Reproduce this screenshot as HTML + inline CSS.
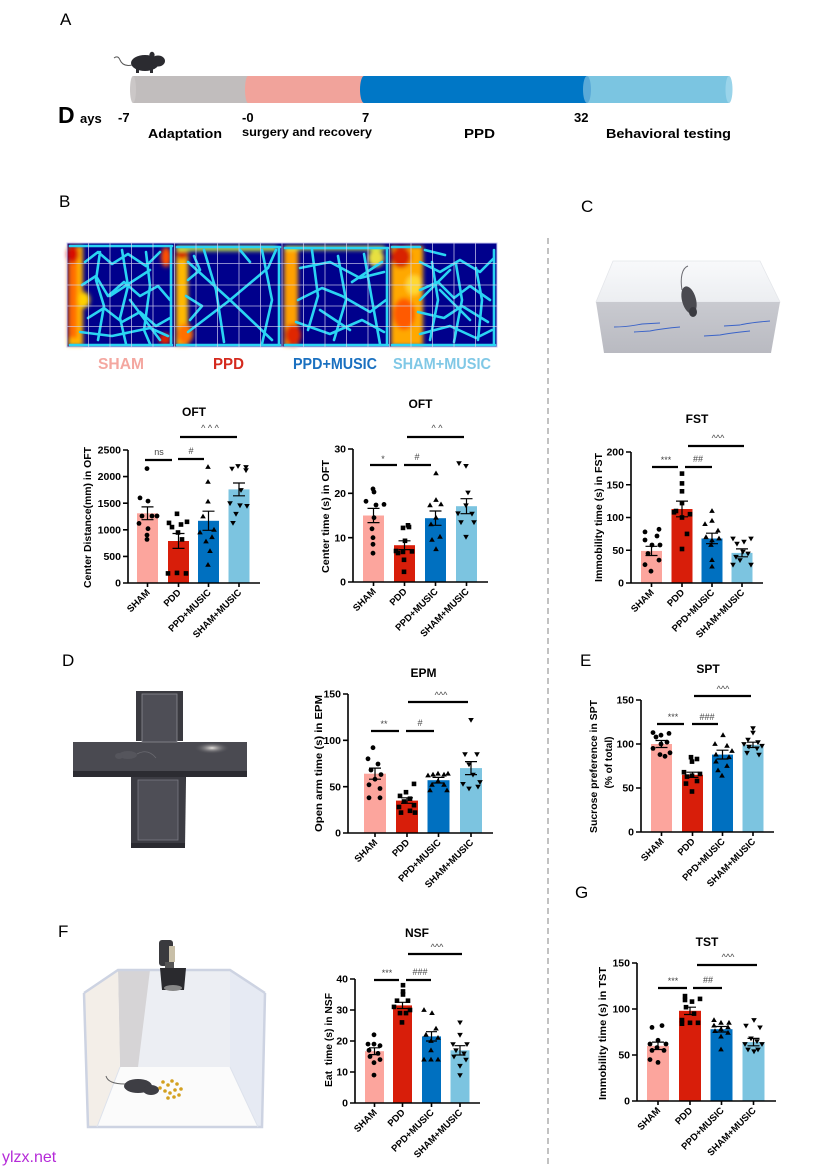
<!DOCTYPE html>
<html><head><meta charset="utf-8"><style>
html,body{margin:0;padding:0;background:#fff}
svg{display:block}
text{font-family:"Liberation Sans",Arial,sans-serif}
.tk{font-size:10.5px;font-weight:bold;text-anchor:end}
.xl{font-size:9.5px;font-weight:bold;text-anchor:end}
.yt{font-size:10.5px;font-weight:bold;text-anchor:middle}
.ti{font-size:12px;font-weight:bold;text-anchor:middle}
.sg{font-size:9px;fill:#444;text-anchor:middle}
.pl{font-size:17px}
.ax{fill:none;stroke:#000;stroke-width:1.6}
.eb{fill:none;stroke:#000;stroke-width:1.2}
.sl{stroke:#000;stroke-width:2.2}
.hl{fill:none;stroke:#2ad4f2;stroke-width:2.6;stroke-linejoin:round;stroke-linecap:round}
.tb{font-size:13px;font-weight:bold}
</style></head><body>
<svg width="834" height="1171" viewBox="0 0 834 1171" xmlns="http://www.w3.org/2000/svg">
<defs>
<circle id="o" r="2.4"/>
<rect id="s" x="-2.3" y="-2.3" width="4.6" height="4.6"/>
<path id="u" d="M0,-2.9L2.8,1.9L-2.8,1.9Z"/>
<path id="d" d="M0,2.9L2.8,-1.9L-2.8,-1.9Z"/>
<filter id="bl" x="-20%" y="-20%" width="140%" height="140%"><feGaussianBlur stdDeviation="2.2"/></filter>
<filter id="bl1"><feGaussianBlur stdDeviation="0.6"/></filter>
<linearGradient id="front" x1="0" y1="0" x2="0" y2="1"><stop offset="0" stop-color="#c9cad0"/><stop offset="1" stop-color="#b9bac1"/></linearGradient>
<linearGradient id="topf" x1="0" y1="0" x2="0" y2="1"><stop offset="0" stop-color="#f8f9fb"/><stop offset="1" stop-color="#eceef1"/></linearGradient>
<radialGradient id="glow" cx="0.5" cy="0.5" r="0.5"><stop offset="0" stop-color="#e8e4e0"/><stop offset="1" stop-color="#4b4b52" stop-opacity="0"/></radialGradient>
</defs>

<!-- ===== Panel A ===== -->
<text x="60" y="25" class="pl">A</text>
<g fill="#2b2b30">
<ellipse cx="145" cy="63" rx="14" ry="8"/>
<ellipse cx="158" cy="61" rx="7" ry="5.5"/>
<ellipse cx="152" cy="55" rx="2.6" ry="3.2"/>
<rect x="136" y="68" width="3" height="5"/><rect x="150" y="68" width="3" height="5"/>
</g>
<path d="M132,65 Q123,67 120,60 Q118,55 114,58" fill="none" stroke="#555" stroke-width="1"/>
<rect x="133" y="76" width="117" height="27" fill="#c1bdbd"/>
<ellipse cx="133" cy="89.5" rx="3" ry="13.5" fill="#cbc7c7"/>
<rect x="248" y="76" width="118" height="27" fill="#f1a39b"/>
<ellipse cx="248" cy="89.5" rx="3" ry="13.5" fill="#f1a39b"/>
<rect x="364" y="76" width="224" height="27" fill="#0077c6"/>
<ellipse cx="364" cy="89.5" rx="4" ry="13.5" fill="#0077c6"/>
<rect x="587" y="76" width="142" height="27" fill="#7bc5e1"/>
<ellipse cx="587" cy="89.5" rx="4" ry="13.5" fill="#5aaad8"/>
<ellipse cx="729" cy="89.5" rx="3.5" ry="13.5" fill="#9ad4ea"/>
<text x="58" y="123" font-size="23" font-weight="bold">D</text>
<text x="80" y="123" font-size="13" font-weight="bold">ays</text>
<text x="118" y="122" class="tb">-7</text>
<text x="242" y="122" class="tb">-0</text>
<text x="362" y="122" class="tb">7</text>
<text x="574" y="122" class="tb">32</text>
<text x="148" y="138" class="tb" textLength="74" lengthAdjust="spacingAndGlyphs">Adaptation</text>
<text x="242" y="136" font-size="11.5" font-weight="bold" textLength="130" lengthAdjust="spacingAndGlyphs">surgery and recovery</text>
<text x="464" y="138" class="tb" textLength="31" lengthAdjust="spacingAndGlyphs">PPD</text>
<text x="606" y="138" class="tb" textLength="125" lengthAdjust="spacingAndGlyphs">Behavioral testing</text>

<!-- ===== Panel B heatmap ===== -->
<text x="59" y="207" class="pl">B</text>
<rect x="67" y="243" width="430" height="104" fill="#00008c"/>
<g filter="url(#bl)">
<rect x="68" y="246" width="15" height="100" fill="#ffb400"/>
<rect x="68" y="252" width="9" height="86" fill="#ff6a00"/>
<ellipse cx="73" cy="254" rx="6" ry="9" fill="#d81000"/>
<ellipse cx="166" cy="257" rx="5" ry="10" fill="#ff5000"/>
<ellipse cx="165" cy="339" rx="6" ry="6" fill="#e02000"/>
<ellipse cx="84" cy="300" rx="6" ry="8" fill="#ffd000"/>
<rect x="176" y="246" width="12" height="100" fill="#ffb800"/>
<ellipse cx="182" cy="253" rx="6" ry="6" fill="#d01000"/>
<ellipse cx="185" cy="334" rx="8" ry="10" fill="#ff7000"/>
<rect x="177" y="246" width="100" height="5" fill="#c8f040"/>
<rect x="284" y="246" width="14" height="100" fill="#ffa000"/>
<ellipse cx="293" cy="335" rx="8" ry="11" fill="#e02800"/>
<ellipse cx="376" cy="258" rx="8" ry="9" fill="#e8e040"/>
<rect x="285" y="246" width="100" height="4" fill="#d0f040"/>
<rect x="391" y="246" width="32" height="100" fill="#ffa800"/>
<ellipse cx="401" cy="257" rx="10" ry="11" fill="#d82000"/>
<ellipse cx="404" cy="314" rx="11" ry="16" fill="#ff5a00"/>
<ellipse cx="414" cy="285" rx="8" ry="10" fill="#ffd830"/>
</g>
<g class="hl">
<path d="M70,246H172M171,246V345M70,345H172M85,262L98,252L112,264L128,254L146,266L160,252M82,285L96,276L108,296L124,282L140,296L158,286L170,300M88,318L104,308L122,322L140,312L156,326L170,318M100,252L96,280L104,306L98,340M122,250L128,286L120,318L126,344M146,252L150,286L144,330L150,344M80,332L112,336L150,328L168,336M110,296L150,270M130,300L160,340"/>
<path d="M177,247H280M279,247V345M177,345H280M188,262L230,300L272,340M188,332L230,300L268,268L276,250M204,250L216,290L224,342M262,250L272,300L262,344M186,296L202,306L190,320M188,280L200,270L194,256M240,250L250,262"/>
<path d="M285,248H388M387,248V345M285,345H388M300,268L330,262L360,278L384,272M298,300L322,288L342,296L370,312L386,300M296,322L330,334L362,320L384,332M338,256L346,300L334,340M364,254L372,300L380,344M312,250L318,296L308,330M352,282L382,262M320,310L350,330"/>
<path d="M392,247H420M494,250V345M392,345H495M420,262L440,272L460,260L480,272L494,258M420,290L438,282L454,298L470,286L490,300M418,312L444,318L462,306L488,322M420,334L450,326L476,338L492,330M432,262L438,300L430,340M456,264L462,300L454,342M476,268L482,300L478,340M440,290L470,320M450,270L420,300M425,250L445,255"/>
</g>
<g stroke="#d6d6f2" stroke-width="0.8" opacity="0.85">
<path d="M88.5,243V347M110,243V347M131.5,243V347M153,243V347M174.5,243V347M196,243V347M217.5,243V347M239,243V347M260.5,243V347M282,243V347M303.5,243V347M325,243V347M346.5,243V347M368,243V347M389.5,243V347M411,243V347M432.5,243V347M454,243V347M475.5,243V347"/>
<path d="M67,263.5H497M67,285H497M67,306H497M67,326.5H497"/>
</g>
<rect x="67" y="243" width="430" height="104" fill="none" stroke="#c8c8f0" stroke-width="1"/>
<text x="98" y="369" font-size="15.5" font-weight="bold" fill="#f4a7a0" textLength="46" lengthAdjust="spacingAndGlyphs">SHAM</text>
<text x="213" y="369" font-size="15.5" font-weight="bold" fill="#d42a1e" textLength="31" lengthAdjust="spacingAndGlyphs">PPD</text>
<text x="293" y="369" font-size="15.5" font-weight="bold" fill="#1a70c0" textLength="84" lengthAdjust="spacingAndGlyphs">PPD+MUSIC</text>
<text x="393" y="369" font-size="15.5" font-weight="bold" fill="#80c8e6" textLength="98" lengthAdjust="spacingAndGlyphs">SHAM+MUSIC</text>

<!-- dashed separator -->
<line x1="548" y1="238" x2="548" y2="1165" stroke="#9a9a9a" stroke-width="1.2" stroke-dasharray="6,4"/>

<!-- ===== OFT distance ===== -->
<g>
<text x="194" y="416" class="ti">OFT</text>
<rect x="137" y="513.3" width="21" height="69.7" fill="#fca59d"/>
<rect x="168" y="541" width="21" height="42" fill="#d81e0a"/>
<rect x="198" y="520.8" width="21" height="62.2" fill="#0070c0"/>
<rect x="228.5" y="489.4" width="21" height="93.6" fill="#7cc4e0"/>
<path class="ax" d="M128,450V583H260M123,450H128M123,476.6H128M123,503.2H128M123,529.8H128M123,556.4H128M123,583H128M147.5,583V587M178.5,583V587M208.5,583V587M239,583V587"/>
<g class="tk"><text x="121" y="453.6">2500</text><text x="121" y="480.2">2000</text><text x="121" y="506.8">1500</text><text x="121" y="533.4">1000</text><text x="121" y="560">500</text><text x="121" y="586.6">0</text></g>
<g>
<use href="#o" x="147" y="468.6"/><use href="#o" x="140" y="497.9"/><use href="#o" x="148" y="501.1"/><use href="#o" x="142" y="516"/><use href="#o" x="152" y="516"/><use href="#o" x="157" y="516"/><use href="#o" x="139" y="523.4"/><use href="#o" x="148" y="528.7"/><use href="#o" x="147" y="535.1"/><use href="#o" x="147" y="539.4"/>
<use href="#s" x="177" y="513.8"/><use href="#s" x="169" y="522.9"/><use href="#s" x="187" y="521.8"/><use href="#s" x="181" y="524.5"/><use href="#s" x="172" y="527.1"/><use href="#s" x="178" y="532.5"/><use href="#s" x="182" y="539.4"/><use href="#s" x="168" y="573.4"/><use href="#s" x="177" y="572.9"/><use href="#s" x="186" y="573.4"/>
<use href="#u" x="208" y="467"/><use href="#u" x="208" y="481.9"/><use href="#u" x="208" y="501.6"/><use href="#u" x="203" y="516.5"/><use href="#u" x="214" y="529.8"/><use href="#u" x="200" y="532.5"/><use href="#u" x="212" y="537.2"/><use href="#u" x="206" y="541.5"/><use href="#u" x="210" y="551.1"/><use href="#u" x="208" y="564.9"/>
<use href="#d" x="232" y="468.6"/><use href="#d" x="238" y="466"/><use href="#d" x="246" y="467"/><use href="#d" x="246" y="470.2"/><use href="#d" x="230" y="503.2"/><use href="#d" x="247" y="505.9"/><use href="#d" x="240" y="505.3"/><use href="#d" x="236" y="513.8"/><use href="#d" x="233" y="522.9"/><use href="#d" x="241" y="490"/>
</g>
<path class="eb" d="M141.5,506.9H153.5M147.5,506.9V519.7M141.5,519.7H153.5M172.5,533.5H184.5M178.5,533.5V548.4M172.5,548.4H184.5M202.5,511.2H214.5M208.5,511.2V530.3M202.5,530.3H214.5M233,483H245M239,483V495.8M233,495.8H245"/>
<path class="sl" d="M145,460H172M178,459H204M180,437H237"/>
<text x="159" y="455" class="sg">ns</text><text x="191" y="454" class="sg">#</text><text x="210" y="431" class="sg">^ ^ ^</text>
<text transform="translate(91,517.5) rotate(-90)" class="yt" textLength="141" lengthAdjust="spacingAndGlyphs">Center Distance(mm) in OFT</text>
<text transform="translate(150.5,593) rotate(-45)" class="xl">SHAM</text>
<text transform="translate(181.5,593) rotate(-45)" class="xl">PDD</text>
<text transform="translate(211.5,593) rotate(-45)" class="xl">PPD+MUSIC</text>
<text transform="translate(242,593) rotate(-45)" class="xl">SHAM+MUSIC</text>
</g>

<!-- ===== OFT time ===== -->
<g>
<text x="420.5" y="408" class="ti">OFT</text>
<rect x="363" y="515.5" width="21" height="66.5" fill="#fca59d"/>
<rect x="394" y="545.2" width="21" height="36.8" fill="#d81e0a"/>
<rect x="425" y="518.2" width="21" height="63.8" fill="#0070c0"/>
<rect x="456" y="506.2" width="21" height="75.8" fill="#7cc4e0"/>
<path class="ax" d="M353,449V582H488M348,449H353M348,493.3H353M348,537.7H353M348,582H353M373.5,582V586M404.5,582V586M435.5,582V586M466.5,582V586"/>
<g class="tk"><text x="346" y="452.6">30</text><text x="346" y="496.9">20</text><text x="346" y="541.3">10</text><text x="346" y="585.6">0</text></g>
<g>
<use href="#o" x="373" y="488.9"/><use href="#o" x="374" y="492"/><use href="#o" x="366" y="501.3"/><use href="#o" x="384" y="504.4"/><use href="#o" x="376" y="505"/><use href="#o" x="374" y="517.7"/><use href="#o" x="372" y="528.8"/><use href="#o" x="373" y="537.7"/><use href="#o" x="373" y="544.3"/><use href="#o" x="373" y="553.2"/>
<use href="#s" x="408" y="525.3"/><use href="#s" x="403" y="527.9"/><use href="#s" x="409" y="527"/><use href="#s" x="405" y="540.8"/><use href="#s" x="396" y="551"/><use href="#s" x="403" y="551.9"/><use href="#s" x="412" y="551.4"/><use href="#s" x="404" y="559.8"/><use href="#s" x="404" y="571.8"/><use href="#s" x="398" y="553"/>
<use href="#u" x="436" y="473.4"/><use href="#u" x="436" y="500"/><use href="#u" x="430" y="505.3"/><use href="#u" x="441" y="504.4"/><use href="#u" x="436" y="517.7"/><use href="#u" x="431" y="524.4"/><use href="#u" x="440" y="536.8"/><use href="#u" x="432" y="539.9"/><use href="#u" x="436" y="549.2"/>
<use href="#d" x="459" y="463.2"/><use href="#d" x="466" y="465.9"/><use href="#d" x="468" y="492.5"/><use href="#d" x="466" y="505.3"/><use href="#d" x="458" y="513.3"/><use href="#d" x="472" y="513.7"/><use href="#d" x="461" y="522.2"/><use href="#d" x="474" y="522.2"/><use href="#d" x="466" y="536.8"/>
</g>
<path class="eb" d="M367.5,508.4H379.5M373.5,508.4V522.6M367.5,522.6H379.5M398.5,540.8H410.5M404.5,540.8V549.6M398.5,549.6H410.5M429.5,511H441.5M435.5,511V525.3M429.5,525.3H441.5M460.5,498.7H472.5M466.5,498.7V513.7M460.5,513.7H472.5"/>
<path class="sl" d="M370,465H397M404,465H431M407,437H464"/>
<text x="383" y="462" class="sg">*</text><text x="417" y="460" class="sg">#</text><text x="437" y="431" class="sg">^ ^</text>
<text transform="translate(329,516.5) rotate(-90)" class="yt" textLength="113" lengthAdjust="spacingAndGlyphs">Center time (s) in OFT</text>
<text transform="translate(376.5,592) rotate(-45)" class="xl">SHAM</text>
<text transform="translate(407.5,592) rotate(-45)" class="xl">PDD</text>
<text transform="translate(438.5,592) rotate(-45)" class="xl">PPD+MUSIC</text>
<text transform="translate(469.5,592) rotate(-45)" class="xl">SHAM+MUSIC</text>
</g>

<!-- ===== Panel C ===== -->
<text x="581" y="212" class="pl">C</text>
<polygon points="613,261 760,261 780,302 596,302" fill="url(#topf)" stroke="#e4e6ea" stroke-width="0.8"/>
<polygon points="596,302 780,302 771,353 604,353" fill="url(#front)"/>
<g fill="none" stroke="#3a63c8" stroke-width="0.9">
<path d="M614,327C628,327 636,325 642,324L660,323"/>
<path d="M634,332L650,331C660,329 668,328 680,327"/>
<path d="M724,326L740,325C748,323 758,322 770,321"/>
<path d="M704,336L720,335C730,333 740,332 750,331"/>
</g>
<path d="M682,290C680,278 682,268 688,266" fill="none" stroke="#6a6a70" stroke-width="1"/>
<ellipse cx="689" cy="300" rx="7" ry="14" fill="#4a4a50" transform="rotate(-15 689 300)"/>
<ellipse cx="693" cy="312" rx="4" ry="5" fill="#3a3a40"/>

<!-- ===== FST ===== -->
<g>
<text x="697" y="423" class="ti" font-size="12.5">FST</text>
<rect x="641" y="550.9" width="21" height="32.1" fill="#fca59d"/>
<rect x="671.5" y="509" width="21" height="74" fill="#d81e0a"/>
<rect x="701.5" y="538.5" width="21" height="44.5" fill="#0070c0"/>
<rect x="731.5" y="552.9" width="21" height="30.1" fill="#7cc4e0"/>
<path class="ax" d="M631,452V583H763M626,452H631M626,484.75H631M626,517.5H631M626,550.25H631M626,583H631M651.5,583V587M682,583V587M712,583V587M742,583V587"/>
<g class="tk"><text x="624" y="455.6">200</text><text x="624" y="488.3">150</text><text x="624" y="521.1">100</text><text x="624" y="553.8">50</text><text x="624" y="586.6">0</text></g>
<g>
<use href="#o" x="659" y="529.3"/><use href="#o" x="645" y="531.9"/><use href="#o" x="657" y="536"/><use href="#o" x="645" y="540"/><use href="#o" x="652" y="545"/><use href="#o" x="660" y="545"/><use href="#o" x="648" y="553.5"/><use href="#o" x="659" y="560.1"/><use href="#o" x="645" y="564.7"/><use href="#o" x="651" y="571.2"/>
<use href="#s" x="682" y="473.6"/><use href="#s" x="682" y="483.4"/><use href="#s" x="682" y="491.3"/><use href="#s" x="682" y="503.1"/><use href="#s" x="676" y="511"/><use href="#s" x="690" y="514.2"/><use href="#s" x="682" y="517.5"/><use href="#s" x="674" y="512.3"/><use href="#s" x="687" y="533.9"/><use href="#s" x="682" y="549"/>
<use href="#u" x="712" y="511"/><use href="#u" x="712" y="520.8"/><use href="#u" x="705" y="524.1"/><use href="#u" x="718" y="530.6"/><use href="#u" x="706" y="537.2"/><use href="#u" x="719" y="538.5"/><use href="#u" x="712" y="540.4"/><use href="#u" x="711" y="545"/><use href="#u" x="712" y="560.1"/><use href="#u" x="712" y="566.6"/>
<use href="#d" x="733" y="538.5"/><use href="#d" x="751" y="538.5"/><use href="#d" x="744" y="541.7"/><use href="#d" x="737" y="543.7"/><use href="#d" x="743" y="551.6"/><use href="#d" x="748" y="553.5"/><use href="#d" x="736" y="556.8"/><use href="#d" x="740" y="560.1"/><use href="#d" x="733" y="564.7"/><use href="#d" x="751" y="564.7"/>
</g>
<path class="eb" d="M645.5,546.3H657.5M651.5,546.3V555.5M645.5,555.5H657.5M676,501.1H688M682,501.1V516.8M676,516.8H688M706,533.2H718M712,533.2V543.7M706,543.7H718M736,548.9H748M742,548.9V556.8M736,556.8H748"/>
<path class="sl" d="M652,467H678M685,467H712M688,446H744"/>
<text x="666" y="463" class="sg">***</text><text x="698" y="462" class="sg">##</text><text x="718" y="441" class="sg">^^^</text>
<text transform="translate(602,517.5) rotate(-90)" class="yt" textLength="129" lengthAdjust="spacingAndGlyphs">Immobility time (s) in FST</text>
<text transform="translate(654.5,593) rotate(-45)" class="xl">SHAM</text>
<text transform="translate(685,593) rotate(-45)" class="xl">PDD</text>
<text transform="translate(715,593) rotate(-45)" class="xl">PPD+MUSIC</text>
<text transform="translate(745,593) rotate(-45)" class="xl">SHAM+MUSIC</text>
</g>

<!-- ===== Panel D ===== -->
<text x="62" y="666" class="pl">D</text>
<g>
<polygon points="131,776 186,776 185,847 131,847" fill="#2e2e34"/>
<rect x="136" y="691" width="47" height="50" fill="#3a3a40"/>
<rect x="73" y="742" width="174" height="29" fill="#4a4a51"/>
<rect x="73" y="771" width="174" height="6" fill="#2c2c32"/>
<rect x="131" y="777" width="54" height="66" fill="#3c3c43"/>
<rect x="131" y="843" width="54" height="5" fill="#2a2a30"/>
<rect x="142" y="694" width="35" height="48" fill="#4e4e56" stroke="#8a8a92" stroke-width="0.8"/>
<rect x="138" y="780" width="40" height="60" fill="#4e4e56" stroke="#7a7a82" stroke-width="0.8"/>
<ellipse cx="212" cy="748" rx="18" ry="6" fill="url(#glow)"/>
<ellipse cx="128" cy="755" rx="9" ry="4" fill="#55555c"/>
<ellipse cx="119" cy="756" rx="4" ry="3" fill="#55555c"/>
<path d="M137,754Q148,748 156,758" fill="none" stroke="#6a6a70" stroke-width="0.8"/>
</g>

<!-- ===== EPM ===== -->
<g>
<text x="423.5" y="677" class="ti" font-size="13">EPM</text>
<rect x="364" y="773.7" width="22" height="59.3" fill="#fca59d"/>
<rect x="396" y="800.6" width="22" height="32.4" fill="#d81e0a"/>
<rect x="427.5" y="780.2" width="22" height="52.8" fill="#0070c0"/>
<rect x="460" y="768.1" width="22" height="64.9" fill="#7cc4e0"/>
<path class="ax" d="M348,694V833H493M343,694H348M343,740.3H348M343,786.7H348M343,833H348M375,833V837M407,833V837M438.5,833V837M471,833V837"/>
<g class="tk"><text x="341" y="697.6">150</text><text x="341" y="743.9">100</text><text x="341" y="790.3">50</text><text x="341" y="836.6">0</text></g>
<g>
<use href="#o" x="373" y="747.7"/><use href="#o" x="368" y="758.8"/><use href="#o" x="378" y="764"/><use href="#o" x="371" y="770"/><use href="#o" x="381" y="774.6"/><use href="#o" x="375" y="779.2"/><use href="#o" x="369" y="784.8"/><use href="#o" x="380" y="788.5"/><use href="#o" x="369" y="797.8"/><use href="#o" x="380" y="797.8"/>
<use href="#s" x="414" y="783.9"/><use href="#s" x="406" y="792.2"/><use href="#s" x="400" y="795.9"/><use href="#s" x="410" y="798.7"/><use href="#s" x="404" y="801.5"/><use href="#s" x="414" y="805.2"/><use href="#s" x="399" y="807"/><use href="#s" x="410" y="810.8"/><use href="#s" x="401" y="812.6"/><use href="#s" x="415" y="812.6"/>
<use href="#u" x="428" y="775.5"/><use href="#u" x="433" y="774.6"/><use href="#u" x="438" y="773.7"/><use href="#u" x="444" y="774.6"/><use href="#u" x="448" y="773.7"/><use href="#u" x="438" y="781"/><use href="#u" x="432" y="784.8"/><use href="#u" x="444" y="784.8"/><use href="#u" x="430" y="790.4"/><use href="#u" x="447" y="790.4"/>
<use href="#d" x="471" y="719.9"/><use href="#d" x="465" y="754.2"/><use href="#d" x="477" y="754.2"/><use href="#d" x="469" y="764.4"/><use href="#d" x="473" y="774.6"/><use href="#d" x="480" y="782"/><use href="#d" x="463" y="783.9"/><use href="#d" x="478" y="786.6"/><use href="#d" x="469" y="788.5"/>
</g>
<path class="eb" d="M369,768.1H381M375,768.1V779.2M369,779.2H381M401,797.8H413M407,797.8V803.3M401,803.3H413M432.5,777.4H444.5M438.5,777.4V783M432.5,783H444.5M465,761.6H477M471,761.6V774.6M465,774.6H477"/>
<path class="sl" d="M371,731H399M406,731H434M408,702H468"/>
<text x="384" y="727" class="sg">**</text><text x="420" y="726" class="sg">#</text><text x="441" y="698" class="sg">^^^</text>
<text transform="translate(322,763.5) rotate(-90)" class="yt" textLength="137" lengthAdjust="spacingAndGlyphs">Open arm time (s) in EPM</text>
<text transform="translate(378,843) rotate(-45)" class="xl">SHAM</text>
<text transform="translate(410,843) rotate(-45)" class="xl">PDD</text>
<text transform="translate(441.5,843) rotate(-45)" class="xl">PPD+MUSIC</text>
<text transform="translate(474,843) rotate(-45)" class="xl">SHAM+MUSIC</text>
</g>

<!-- ===== Panel E SPT ===== -->
<text x="580" y="666" class="pl">E</text>
<g>
<text x="708" y="673" class="ti" font-size="13">SPT</text>
<rect x="651" y="744" width="21" height="88" fill="#fca59d"/>
<rect x="682" y="774.8" width="21" height="57.2" fill="#d81e0a"/>
<rect x="712" y="754.6" width="21" height="77.4" fill="#0070c0"/>
<rect x="742.5" y="744.9" width="21" height="87.1" fill="#7cc4e0"/>
<path class="ax" d="M641,700V832H774M636,700H641M636,744H641M636,788H641M636,832H641M661.5,832V836M692.5,832V836M722.5,832V836M753,832V836"/>
<g class="tk"><text x="634" y="703.6">150</text><text x="634" y="747.6">100</text><text x="634" y="791.6">50</text><text x="634" y="835.6">0</text></g>
<g>
<use href="#o" x="653" y="732.6"/><use href="#o" x="669" y="733.4"/><use href="#o" x="661" y="735.2"/><use href="#o" x="656" y="737"/><use href="#o" x="667" y="742.2"/><use href="#o" x="661" y="744"/><use href="#o" x="653" y="748.4"/><use href="#o" x="670" y="752.8"/><use href="#o" x="660" y="754.6"/><use href="#o" x="665" y="756.3"/>
<use href="#s" x="691" y="757.2"/><use href="#s" x="697" y="759"/><use href="#s" x="692" y="761.6"/><use href="#s" x="684" y="772.2"/><use href="#s" x="700" y="773.9"/><use href="#s" x="692" y="775.7"/><use href="#s" x="687" y="776.6"/><use href="#s" x="697" y="781"/><use href="#s" x="686" y="783.6"/><use href="#s" x="692" y="791.5"/>
<use href="#u" x="723" y="735.2"/><use href="#u" x="715" y="744"/><use href="#u" x="727" y="745.8"/><use href="#u" x="732" y="751"/><use href="#u" x="716" y="754.6"/><use href="#u" x="729" y="757.2"/><use href="#u" x="716" y="761.6"/><use href="#u" x="727" y="766"/><use href="#u" x="718" y="770.4"/><use href="#u" x="722" y="775.7"/>
<use href="#d" x="753" y="728.2"/><use href="#d" x="753" y="732.6"/><use href="#d" x="748" y="739.6"/><use href="#d" x="758" y="742.2"/><use href="#d" x="744" y="744"/><use href="#d" x="762" y="745.8"/><use href="#d" x="749" y="746.6"/><use href="#d" x="757" y="748.4"/><use href="#d" x="747" y="752.8"/><use href="#d" x="759" y="754.6"/>
</g>
<path class="eb" d="M655.5,740.5H667.5M661.5,740.5V747.5M655.5,747.5H667.5M686.5,772.2H698.5M692.5,772.2V777.4M686.5,777.4H698.5M716.5,750.2H728.5M722.5,750.2V759M716.5,759H728.5M747,742.2H759M753,742.2V747.5M747,747.5H759"/>
<path class="sl" d="M657,724H684M692,724H718M694,696H751"/>
<text x="673" y="720" class="sg">***</text><text x="707" y="720" class="sg">###</text><text x="723" y="692" class="sg">^^^</text>
<text transform="translate(597,766.5) rotate(-90)" class="yt" textLength="133" lengthAdjust="spacingAndGlyphs">Sucrose preference in SPT</text>
<text transform="translate(612,762.5) rotate(-90)" class="yt" textLength="52" lengthAdjust="spacingAndGlyphs">(% of total)</text>
<text transform="translate(664.5,842) rotate(-45)" class="xl">SHAM</text>
<text transform="translate(695.5,842) rotate(-45)" class="xl">PDD</text>
<text transform="translate(725.5,842) rotate(-45)" class="xl">PPD+MUSIC</text>
<text transform="translate(756,842) rotate(-45)" class="xl">SHAM+MUSIC</text>
</g>

<!-- ===== Panel F ===== -->
<text x="58" y="937" class="pl">F</text>
<g>
<polygon points="118,970 230,970 230,1067 120,1067" fill="#eceef3"/>
<polygon points="118,970 150,970 138,1067 120,1067" fill="#d6d4d6"/>
<polygon points="118,1067 230,1067 258,1127 97,1127" fill="#fbfbfb"/>
<polygon points="84,993 118,970 120,1067 97,1127 88,1127" fill="#f3eee8"/>
<polygon points="230,970 265,993 262,1127 258,1127 230,1067" fill="#e6eaf3"/>
<g fill="none" stroke="#cdd3e2" stroke-width="2.5">
<path d="M84,993L118,970H230L265,993"/>
<path d="M84,993L88,1127H262L265,993"/>
</g>
<path d="M97,1127L120,1067M258,1127L230,1067" stroke="#dde2ec" stroke-width="1" fill="none"/>
<rect x="159" y="940" width="14" height="26" rx="3" fill="#3a3a3e"/>
<rect x="169" y="946" width="6" height="16" fill="#c8bfa8"/>
<rect x="165" y="962" width="9" height="6" fill="#555"/>
<path d="M160,968H186L184,990H162Z" fill="#2a2a2e"/>
<ellipse cx="173" cy="988" rx="9" ry="3" fill="#888"/>
<ellipse cx="138" cy="1086" rx="14" ry="7" fill="#3e3e44"/>
<ellipse cx="151" cy="1090" rx="8" ry="5" fill="#3e3e44"/>
<path d="M125,1084Q108,1084 106,1076" fill="none" stroke="#666" stroke-width="1"/>
<g fill="#d3a020">
<circle cx="163" cy="1082" r="1.8"/><circle cx="168" cy="1085" r="1.8"/><circle cx="172" cy="1081" r="1.8"/><circle cx="177" cy="1084" r="1.8"/><circle cx="181" cy="1089" r="1.8"/><circle cx="160" cy="1088" r="1.8"/><circle cx="165" cy="1091" r="1.8"/><circle cx="170" cy="1093" r="1.8"/><circle cx="175" cy="1090" r="1.8"/><circle cx="168" cy="1098" r="1.8"/><circle cx="174" cy="1097" r="1.8"/><circle cx="179" cy="1095" r="1.8"/>
</g>
</g>

<!-- ===== NSF ===== -->
<g>
<text x="417" y="937" class="ti">NSF</text>
<rect x="365" y="1051.2" width="19" height="51.8" fill="#fca59d"/>
<rect x="393" y="1005.4" width="19" height="97.6" fill="#d81e0a"/>
<rect x="422" y="1036.4" width="19" height="66.6" fill="#0070c0"/>
<rect x="450.5" y="1050.3" width="19" height="52.7" fill="#7cc4e0"/>
<path class="ax" d="M355,979V1103H480M350,979H355M350,1010H355M350,1041H355M350,1072H355M350,1103H355M374.5,1103V1107M402.5,1103V1107M431.5,1103V1107M460,1103V1107"/>
<g class="tk"><text x="348" y="982.6">40</text><text x="348" y="1013.6">30</text><text x="348" y="1044.6">20</text><text x="348" y="1075.6">10</text><text x="348" y="1106.6">0</text></g>
<g>
<use href="#o" x="374" y="1034.8"/><use href="#o" x="368" y="1044.1"/><use href="#o" x="374" y="1044.1"/><use href="#o" x="380" y="1045.7"/><use href="#o" x="369" y="1050.3"/><use href="#o" x="378" y="1053.4"/><use href="#o" x="370" y="1056.5"/><use href="#o" x="380" y="1059.6"/><use href="#o" x="374" y="1062.7"/><use href="#o" x="374" y="1075.1"/>
<use href="#s" x="403" y="985.2"/><use href="#s" x="403" y="991.4"/><use href="#s" x="403" y="994.5"/><use href="#s" x="397" y="1000.7"/><use href="#s" x="408" y="1000.7"/><use href="#s" x="394" y="1006.9"/><use href="#s" x="410" y="1010"/><use href="#s" x="400" y="1013.1"/><use href="#s" x="406" y="1013.1"/><use href="#s" x="402" y="1022.4"/>
<use href="#u" x="424" y="1010"/><use href="#u" x="432" y="1013.1"/><use href="#u" x="436" y="1028.6"/><use href="#u" x="426" y="1034.8"/><use href="#u" x="438" y="1037.9"/><use href="#u" x="431" y="1041"/><use href="#u" x="431" y="1050.3"/><use href="#u" x="424" y="1059.6"/><use href="#u" x="431" y="1059.6"/><use href="#u" x="438" y="1059.6"/>
<use href="#d" x="460" y="1022.4"/><use href="#d" x="460" y="1034.8"/><use href="#d" x="453" y="1044.1"/><use href="#d" x="467" y="1044.1"/><use href="#d" x="456" y="1050.3"/><use href="#d" x="464" y="1053.4"/><use href="#d" x="454" y="1056.5"/><use href="#d" x="466" y="1059.6"/><use href="#d" x="460" y="1065.8"/><use href="#d" x="460" y="1075.1"/>
</g>
<path class="eb" d="M369,1047.8H380M374.5,1047.8V1054.6M369,1054.6H380M397,1002.3H408M402.5,1002.3V1008.5M397,1008.5H408M426,1031.7H437M431.5,1031.7V1041M426,1041H437M454.5,1045.7H465.5M460,1045.7V1055M454.5,1055H465.5"/>
<path class="sl" d="M374,980H399M406,980H431M408,954H462"/>
<text x="387" y="976" class="sg">***</text><text x="420" y="975" class="sg">###</text><text x="437" y="950" class="sg">^^^</text>
<text transform="translate(332,1040) rotate(-90)" class="yt" textLength="94" lengthAdjust="spacingAndGlyphs" xml:space="preserve">Eat  time (s) in NSF</text>
<text transform="translate(377.5,1113) rotate(-45)" class="xl">SHAM</text>
<text transform="translate(405.5,1113) rotate(-45)" class="xl">PDD</text>
<text transform="translate(434.5,1113) rotate(-45)" class="xl">PPD+MUSIC</text>
<text transform="translate(463,1113) rotate(-45)" class="xl">SHAM+MUSIC</text>
</g>

<!-- ===== Panel G TST ===== -->
<text x="575" y="898" class="pl">G</text>
<g>
<text x="707" y="946" class="ti" font-size="13">TST</text>
<rect x="647" y="1045.8" width="22" height="55.2" fill="#fca59d"/>
<rect x="679" y="1010.8" width="22" height="90.2" fill="#d81e0a"/>
<rect x="710.5" y="1029.2" width="22" height="71.8" fill="#0070c0"/>
<rect x="742.5" y="1042.1" width="22" height="58.9" fill="#7cc4e0"/>
<path class="ax" d="M637,963V1101H776M632,963H637M632,1009H637M632,1055H637M632,1101H637M658,1101V1105M690,1101V1105M721.5,1101V1105M753.5,1101V1105"/>
<g class="tk"><text x="630" y="966.6">150</text><text x="630" y="1012.6">100</text><text x="630" y="1058.6">50</text><text x="630" y="1104.6">0</text></g>
<g>
<use href="#o" x="662" y="1025.6"/><use href="#o" x="652" y="1027.4"/><use href="#o" x="658" y="1040.3"/><use href="#o" x="650" y="1044"/><use href="#o" x="666" y="1044"/><use href="#o" x="657" y="1047.6"/><use href="#o" x="652" y="1050.4"/><use href="#o" x="664" y="1050.4"/><use href="#o" x="650" y="1059.6"/><use href="#o" x="658" y="1062.4"/>
<use href="#s" x="685" y="996.1"/><use href="#s" x="685" y="1000"/><use href="#s" x="692" y="1001.6"/><use href="#s" x="700" y="998.9"/><use href="#s" x="686" y="1007.2"/><use href="#s" x="694" y="1013.6"/><use href="#s" x="682" y="1020.1"/><use href="#s" x="698" y="1022.8"/><use href="#s" x="690" y="1022.8"/><use href="#s" x="682" y="1023.7"/>
<use href="#u" x="714" y="1020.1"/><use href="#u" x="729" y="1022.8"/><use href="#u" x="721" y="1022.8"/><use href="#u" x="714" y="1025.6"/><use href="#u" x="728" y="1027.4"/><use href="#u" x="721" y="1029.2"/><use href="#u" x="715" y="1031.1"/><use href="#u" x="728" y="1032.9"/><use href="#u" x="721" y="1036.6"/><use href="#u" x="721" y="1049.5"/>
<use href="#d" x="754" y="1020"/><use href="#d" x="746" y="1025.6"/><use href="#d" x="760" y="1027.4"/><use href="#d" x="751" y="1038.4"/><use href="#d" x="757" y="1041.2"/><use href="#d" x="745" y="1044"/><use href="#d" x="762" y="1044"/><use href="#d" x="748" y="1049.5"/><use href="#d" x="758" y="1049.5"/><use href="#d" x="754" y="1051.3"/>
</g>
<path class="eb" d="M652,1042.1H664M658,1042.1V1049.5M652,1049.5H664M684,1007.2H696M690,1007.2V1014.5M684,1014.5H696M715.5,1026.5H727.5M721.5,1026.5V1032M715.5,1032H727.5M747.5,1038.4H759.5M753.5,1038.4V1045.8M747.5,1045.8H759.5"/>
<path class="sl" d="M658,988H687M693,988H722M697,965H757"/>
<text x="673" y="984" class="sg">***</text><text x="708" y="983" class="sg">##</text><text x="728" y="960" class="sg">^^^</text>
<text transform="translate(606,1033.5) rotate(-90)" class="yt" textLength="133" lengthAdjust="spacingAndGlyphs">Immobility time (s) in TST</text>
<text transform="translate(661,1111) rotate(-45)" class="xl">SHAM</text>
<text transform="translate(693,1111) rotate(-45)" class="xl">PDD</text>
<text transform="translate(724.5,1111) rotate(-45)" class="xl">PPD+MUSIC</text>
<text transform="translate(756.5,1111) rotate(-45)" class="xl">SHAM+MUSIC</text>
</g>

<!-- watermark -->
<text x="2" y="1162" font-size="16" fill="#b52ad8">ylzx.net</text>
</svg>
</body></html>
